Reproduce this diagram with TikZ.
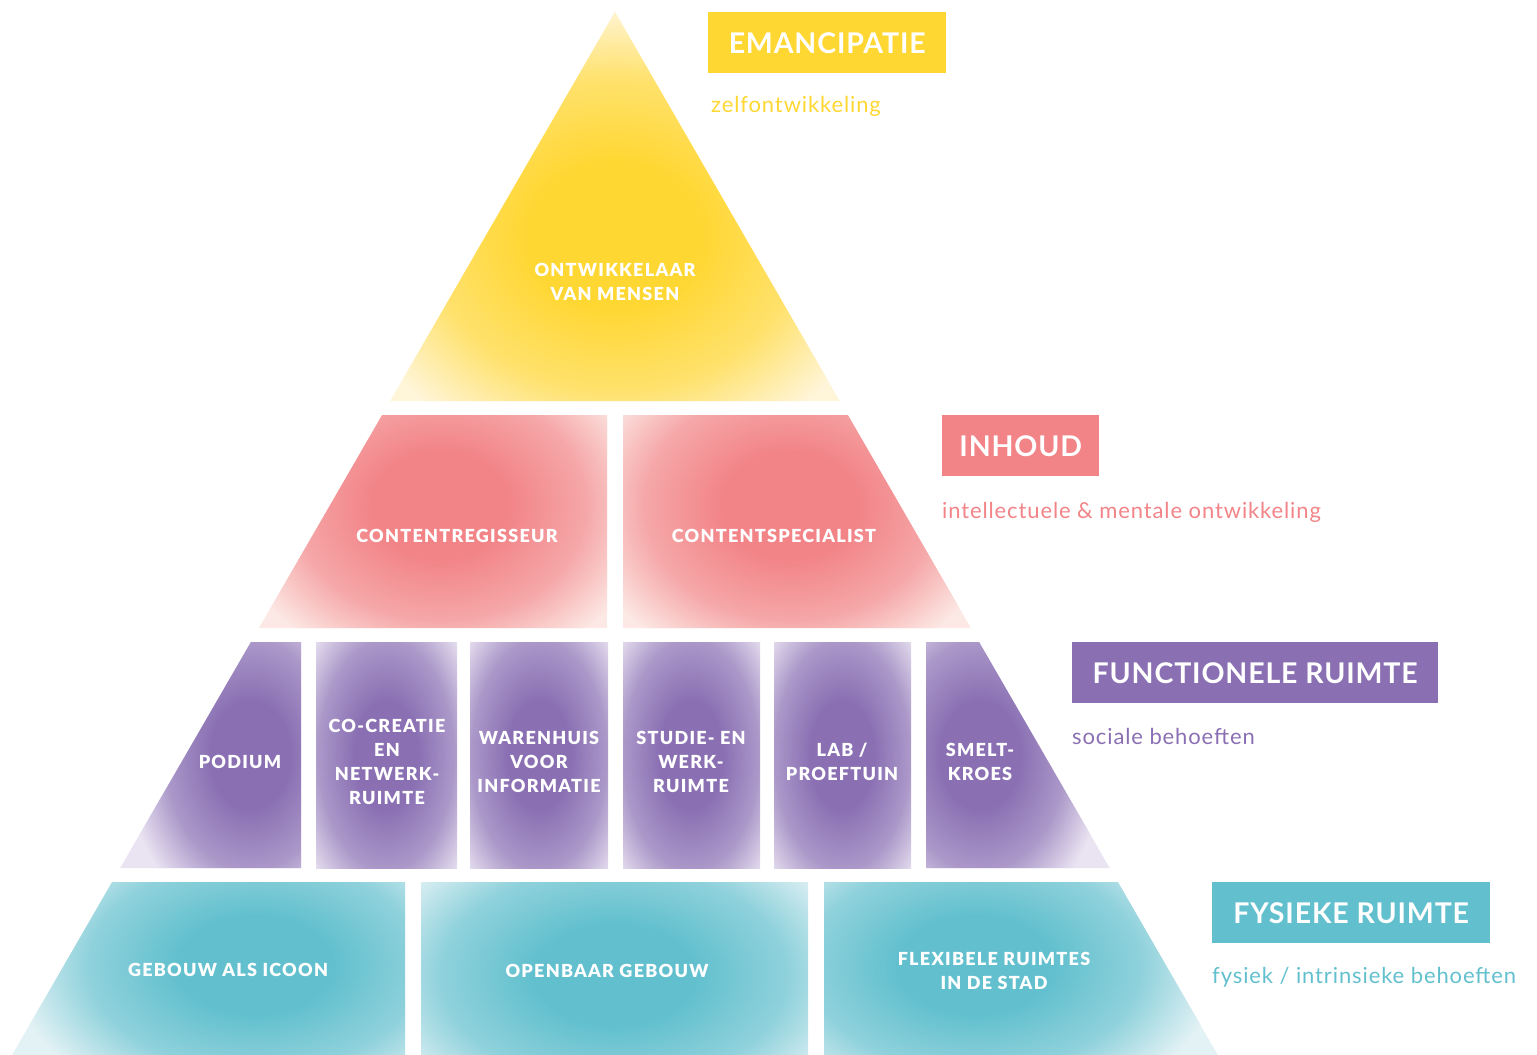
\documentclass[tikz,border=0pt]{standalone}
\usepackage{fontspec}
\setmainfont{Lato}
\newfontfamily\capsfont[LetterSpace=7, BoldFont={Lato Black}]{Lato}
\newfontfamily\headfont[LetterSpace=3]{Lato}
\newfontfamily\subfont[LetterSpace=4]{Lato}

\definecolor{emanc}{HTML}{FFD733}
\definecolor{emancpale}{HTML}{FFF5D8}
\definecolor{inhoud}{HTML}{F28488}
\definecolor{inhoudpale}{HTML}{FCE9E5}
\definecolor{functie}{HTML}{8A70B3}
\definecolor{functiepale}{HTML}{EAE4F2}
\definecolor{fysiek}{HTML}{62C0CE}
\definecolor{fysiekpale}{HTML}{E3F2F5}
\colorlet{emancmid}{emanc!65!emancpale}
\colorlet{inhoudmid}{inhoud!65!inhoudpale}
\colorlet{functiemid}{functie!65!functiepale}
\colorlet{fysiekmid}{fysiek!65!fysiekpale}

\pgfdeclareradialshading{glowemanc}{\pgfpoint{0bp}{0bp}}{color(0bp)=(emanc); color(8bp)=(emanc); color(17bp)=(emancmid); color(25bp)=(emancpale); color(50bp)=(emancpale)}
\pgfdeclareradialshading{glowinhoud}{\pgfpoint{0bp}{0bp}}{color(0bp)=(inhoud); color(8bp)=(inhoud); color(17bp)=(inhoudmid); color(25bp)=(inhoudpale); color(50bp)=(inhoudpale)}
\pgfdeclareradialshading{glowfunctie}{\pgfpoint{0bp}{0bp}}{color(0bp)=(functie); color(8bp)=(functie); color(17bp)=(functiemid); color(25bp)=(functiepale); color(50bp)=(functiepale)}
\pgfdeclareradialshading{glowfysiek}{\pgfpoint{0bp}{0bp}}{color(0bp)=(fysiek); color(8bp)=(fysiek); color(17bp)=(fysiekmid); color(25bp)=(fysiekpale); color(50bp)=(fysiekpale)}

% #1 colour name, #2 glow ellipse, #3 outline of the cell
\newcommand{\glowcell}[3]{%
  \begin{scope}
    \clip #3;
    \fill[#1pale] #3;
    \shade[shading=glow#1] #2;
  \end{scope}}

\tikzset{
  celltext/.style={text=white, align=center, font=\capsfont\bfseries\fontsize{18}{24}\selectfont},
  headbox/.style={anchor=north west, text=white, minimum height=61pt, inner sep=0pt,
    font=\headfont\bfseries\fontsize{28.5}{30}\selectfont},
  subtext/.style={anchor=west, inner sep=0pt, font=\subfont\fontsize{22}{24}\selectfont},
}

\begin{document}
\begin{tikzpicture}[x=1pt, y=-1pt]
    \useasboundingbox (0,0) rectangle (1537,1055);

    % top
    \glowcell{emanc}{(615,235) ellipse (275pt and 230pt)}{(615,12) -- (839.8,401) -- (390.2,401) -- cycle}

    % second row
    \glowcell{inhoud}{(440,505) ellipse (215pt and 170pt)}{(382.1,415) -- (607,415) -- (607,628) -- (259,628) -- cycle}
    \glowcell{inhoud}{(790,505) ellipse (215pt and 170pt)}{(623,415) -- (847.9,415) -- (971,628) -- (623,628) -- cycle}

    % third row
    \glowcell{functie}{(250,755) ellipse (125pt and 170pt)}{(250.9,642) -- (301,642) -- (301,868) -- (120.2,868) -- cycle}
    \glowcell{functie}{(386,755) ellipse (100pt and 170pt)}{(316,642) rectangle (457,868)}
    \glowcell{functie}{(539,755) ellipse (100pt and 170pt)}{(470,642) rectangle (608,868)}
    \glowcell{functie}{(691,755) ellipse (100pt and 170pt)}{(623,642) rectangle (760,868)}
    \glowcell{functie}{(842,755) ellipse (100pt and 170pt)}{(774,642) rectangle (911,868)}
    \glowcell{functie}{(980,755) ellipse (125pt and 170pt)}{(926,642) -- (979.1,642) -- (1109.8,868) -- (926,868) -- cycle}

    % bottom row
    \glowcell{fysiek}{(255,965) ellipse (245pt and 155pt)}{(112.1,882) -- (405,882) -- (405,1055) -- (12.1,1055) -- cycle}
    \glowcell{fysiek}{(614,975) ellipse (255pt and 160pt)}{(421,882) rectangle (808,1055)}
    \glowcell{fysiek}{(975,965) ellipse (245pt and 155pt)}{(824,882) -- (1117.9,882) -- (1217.9,1055) -- (824,1055) -- cycle}

    \node[celltext] (ontwikkelaar) at (615,282) {ONTWIKKELAAR\\VAN MENSEN};
    \node[celltext] (regisseur) at (457,536) {CONTENTREGISSEUR};
    \node[celltext] (specialist) at (774,536) {CONTENTSPECIALIST};
    \node[celltext] (podium) at (240,762) {PODIUM};
    \node[celltext] (cocreatie) at (387,762) {CO-CREATIE\\EN\\NETWERK-\\RUIMTE};
    \node[celltext] (warenhuis) at (539,762) {WARENHUIS\\VOOR\\INFORMATIE};
    \node[celltext] (studie) at (691,762) {STUDIE- EN\\WERK-\\RUIMTE};
    \node[celltext] (lab) at (842,762) {LAB /\\PROEFTUIN};
    \node[celltext] (smelt) at (980,762) {SMELT-\\KROES};
    \node[celltext] (icoon) at (228,970) {GEBOUW ALS ICOON};
    \node[celltext] (openbaar) at (607,971) {OPENBAAR GEBOUW};
    \node[celltext] (flexibel) at (994,971) {FLEXIBELE RUIMTES\\IN DE STAD};

    % legend
    \node[headbox, fill=emanc, minimum width=238pt] (emancipatie) at (708,12) {EMANCIPATIE};
    \node[subtext, text=emanc] (zelf) at (711,106) {zelfontwikkeling};
    \node[headbox, fill=inhoud, minimum width=157pt] (inhoudbox) at (942,415) {INHOUD};
    \node[subtext, text=inhoud] (mentaal) at (942,512) {intellectuele \& mentale ontwikkeling};
    \node[headbox, fill=functie, minimum width=366pt] (functiebox) at (1072,642) {FUNCTIONELE RUIMTE};
    \node[subtext, text=functie] (sociaal) at (1072,736) {sociale behoeften};
    \node[headbox, fill=fysiek, minimum width=278pt] (fysiekbox) at (1212,882) {FYSIEKE RUIMTE};
    \node[subtext, text=fysiek] (intrinsiek) at (1212,977) {fysiek / intrinsieke behoeften};
\end{tikzpicture}
\end{document}
